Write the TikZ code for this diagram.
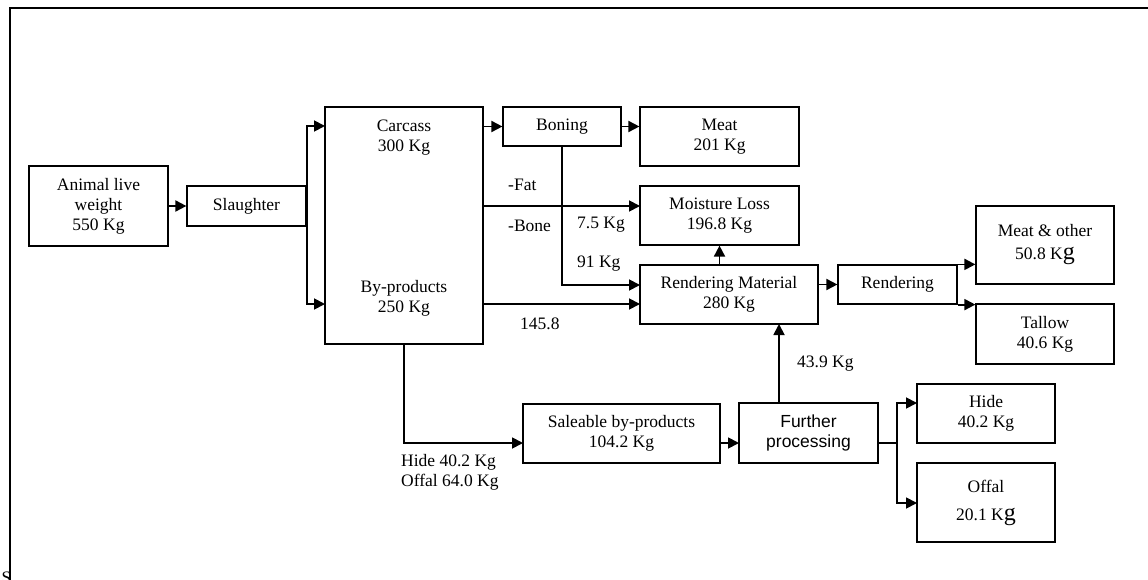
\documentclass[tikz,border=0pt]{standalone}
\usepackage{fontspec}
\setmainfont{Liberation Serif}
\newfontfamily\arialfont{Liberation Sans}
\usetikzlibrary{arrows.meta}
\tikzset{
  box/.style={draw, line width=1.2pt, inner sep=0pt, align=center},
  arr/.style={draw, line width=1.8pt, -{Triangle[length=11pt,width=11pt]}},
  ln/.style={draw, line width=1.8pt},
  lbl/.style={inner sep=0pt, anchor=west},
  frame/.style={draw, line width=1.4pt}
}
\newcommand{\largeg}{{\fontsize{24}{20}\selectfont g}}
\begin{document}
\begin{tikzpicture}[x=1pt,y=-1pt,font=\fontsize{17.5}{20}\selectfont]
\useasboundingbox (0,0) rectangle (1148,580);
% frame
\coordinate (ftl) at (10,8);
\coordinate (ftr) at (1150,8);
\coordinate (fbl) at (10,582);
\draw[frame] (ftr) -- (ftl) -- (fbl);
\node[inner sep=0pt, anchor=base west] (cut) at (1.5,583) {S};
% boxes
\node[box, minimum width=139, minimum height=80] (animal) at (98.5,206) {Animal live\\weight\\550 Kg};
\node[box, minimum width=119, minimum height=40] (slaughter) at (246.5,206) {Slaughter};
\node[box, minimum width=158, minimum height=237] (big) at (404,225.5) {};
\node[inner sep=0pt, align=center] (carcass) at (404,138) {Carcass\\300 Kg};
\node[inner sep=0pt, align=center] (byprod) at (404,298) {By-products\\250 Kg};
\node[box, minimum width=118, minimum height=39] (boning) at (562,126.5) {Boning};
\node[box, minimum width=159, minimum height=59] (meat) at (719.5,136.5) {Meat\\201 Kg};
\node[box, minimum width=159, minimum height=59] (moist) at (719.5,215.5) {Moisture Loss\\196.8 Kg};
\node[box, minimum width=178, minimum height=59] (rm) at (729,294.5) {Rendering Material\\280 Kg};
\node[box, minimum width=119, minimum height=39] (rendering) at (897.5,284.5) {Rendering};
\node[box, minimum width=138, minimum height=78] (meatother) at (1045,245) {Meat \& other\\[3pt]50.8 K\largeg};
\node[box, minimum width=138, minimum height=60] (tallow) at (1045,334) {Tallow\\40.6 Kg};
\node[box, minimum width=197, minimum height=59] (saleable) at (621.5,433.5) {Saleable by-products\\104.2 Kg};
\node[box, minimum width=139, minimum height=60, font=\arialfont\fontsize{17.5}{20}\selectfont] (further) at (808.5,433) {Further\\processing};
\node[box, minimum width=138, minimum height=59] (hide) at (986,413.5) {Hide\\40.2 Kg};
\node[box, minimum width=138, minimum height=79] (offal) at (986,502.5) {Offal\\[8pt]20.1 K\largeg};
% helper coordinates
\coordinate (cin) at (325,126);
\coordinate (bin) at (325,304);
\coordinate (fatout) at (483,206);
\coordinate (fatin) at (640,206);
\coordinate (bpout) at (483,304);
\coordinate (bpin) at (640,304);
\coordinate (bonein) at (640,285);
\coordinate (fpup) at (779,403);
\coordinate (rmbot) at (779,324);
\coordinate (salin) at (523,443);
\coordinate (salout) at (720,443);
\coordinate (furin) at (739,443);
\coordinate (furout) at (878,443);
\coordinate (fsplit) at (897,443);
\coordinate (hidein) at (917,403);
\coordinate (offalin) at (917,503);
% connectors
\draw[arr] (animal.east) -- (slaughter.west);
\draw[arr] (slaughter.east) |- (cin);
\draw[arr] (slaughter.east) |- (bin);
\draw[arr] (big.east |- boning.west) -- (boning.west);
\draw[arr] (boning.east) -- (meat.west |- boning.east);
\draw[arr] (fatout) -- (fatin);
\draw[arr] (boning.south) |- (bonein);
\draw[arr] (bpout) -- (bpin);
\draw[arr] (rm.north -| moist.south) -- (moist.south);
\draw[arr] (rm.east |- rendering.west) -- (rendering.west);
\draw[arr] (rendering.north east) -- (rendering.north east -| meatother.west);
\draw[arr] (rendering.south east) -- (rendering.south east -| tallow.west);
\draw[arr] (fpup) -- (rmbot);
\draw[arr] (big.south) |- (salin);
\draw[arr] (salout) -- (furin);
\draw[ln] (furout) -- (fsplit);
\draw[arr] (fsplit) |- (hidein);
\draw[arr] (fsplit) |- (offalin);
% labels
\node[lbl] (fat) at (508,185) {-Fat};
\node[lbl] (bone) at (508,226) {-Bone};
\node[lbl] (l75) at (577,225) {7.5 Kg};
\node[lbl] (l91) at (577,264) {91 Kg};
\node[lbl] (l145) at (520,324) {145.8};
\node[lbl] (l439) at (797,364) {43.9 Kg};
\node[lbl, align=left] (hideoffal) at (401,472) {Hide 40.2 Kg\\Offal 64.0 Kg};
\end{tikzpicture}
\end{document}
